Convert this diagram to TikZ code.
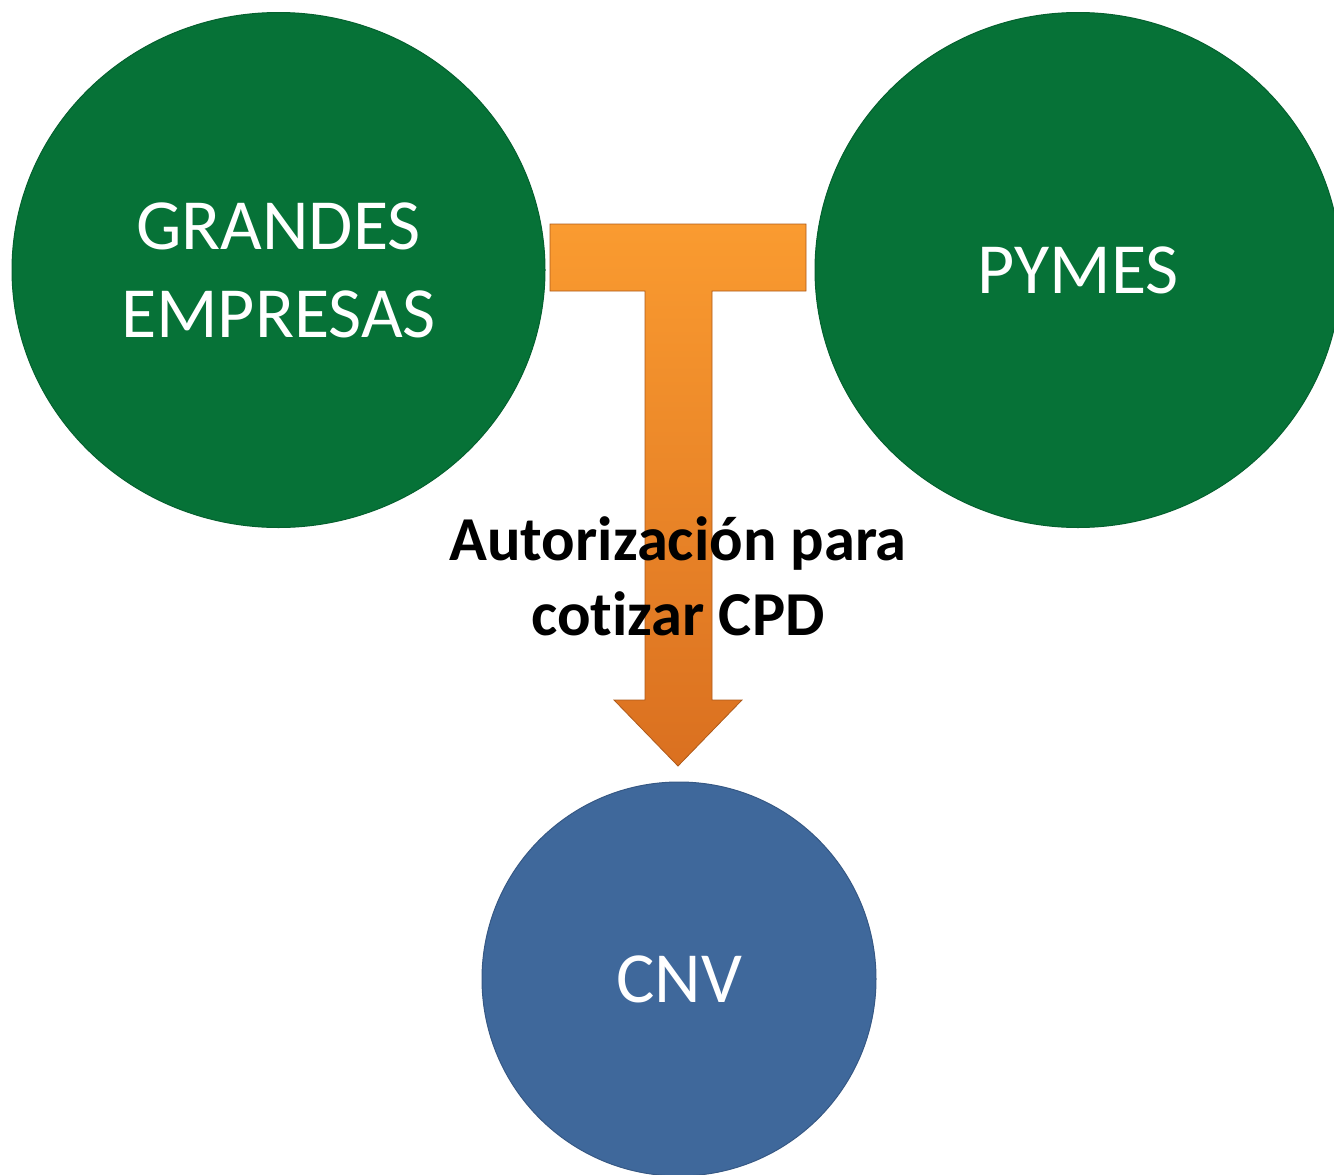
\documentclass[tikz,border=0pt]{standalone}
\usepackage{fontspec}
\setmainfont{Carlito}[Ligatures=NoCommon]
\usetikzlibrary{shapes.geometric}
\definecolor{dgreen}{RGB}{6,114,55}
\definecolor{dblue}{RGB}{63,104,155}
\definecolor{oranget}{RGB}{250,155,48}
\definecolor{orangeb}{RGB}{218,112,32}
\tikzset{
  blob/.style={ellipse, inner sep=0pt, draw=#1!85!black, line width=1pt, fill=#1, text=white,
    font=\fontsize{72}{88}\selectfont, align=center},
  tarrow/.style={top color=oranget, bottom color=orangeb, draw=orangeb!80!black, line width=0.8pt},
  label/.style={font=\bfseries\fontsize{62.5}{75}\selectfont, align=center, text=black}
}
\begin{document}
\begin{tikzpicture}[x=1pt,y=-1pt]
\useasboundingbox (0,0) rectangle (1334,1175);
\node[blob=dgreen, minimum width=533pt, minimum height=515pt] (ge) at (278.5,270) {GRANDES\\EMPRESAS};
\node[blob=dgreen, minimum width=526pt, minimum height=515pt] (py) at (1078,270) {PYMES};
\node[blob=dblue, minimum width=394pt, minimum height=394pt] (cnv) at (679,979) {CNV};
\path[tarrow] (550,224) -- (806,224) -- (806,291) -- (712,291) -- (712,700) -- (742,700)
  -- (678,766) -- (614,700) -- (645,700) -- (645,291) -- (550,291) -- cycle;
\node[label] (lbl) at (678,576) {Autorización para\\cotizar CPD};
\end{tikzpicture}
\end{document}
